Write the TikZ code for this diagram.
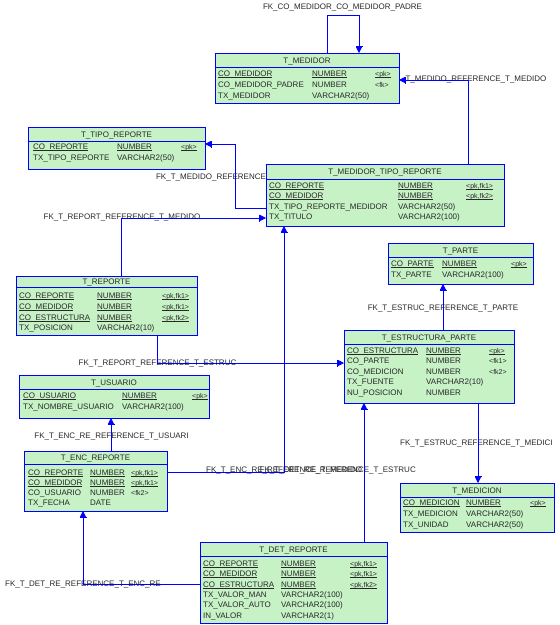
\documentclass[tikz,border=0pt]{standalone}
\usepackage{fontspec}
\setmainfont{Liberation Sans}
\usetikzlibrary{arrows.meta}
\definecolor{tfill}{RGB}{198,242,198}
\definecolor{tline}{RGB}{0,0,255}
\definecolor{ttext}{RGB}{40,40,40}
\newcommand\myul[1]{\setbox0\hbox{#1}\rlap{\rule[-1.8pt]{\wd0}{0.5pt}}\box0}
\newcommand\Tbl[7]{%
  \node[tbox, minimum width={(#4-#2)*1pt}, minimum height={(#5-#3)*1pt}] (#1) at ({(#2+#4)/2},{(#3+#5)/2}) {};
  \draw[tsep] (#2,#6) -- (#4,#6);
  \node[ttl] (#1-title) at ({(#2+#4)/2},{(#3+#6)/2+3}) {#7};}
\newcommand\NRow[6]{%
  \node[fld] (#1-#2a) at (\ColA,{#3+3}) {#4};
  \node[fld] (#1-#2b) at (\ColB,{#3+3}) {#5};
  \if\relax\detokenize{#6}\relax\else\node[mk] (#1-#2c) at (\ColC,{#3+3}) {#6};\fi}
\newcommand\URow[6]{%
  \node[fld] (#1-#2a) at (\ColA,{#3+3}) {\myul{#4}};
  \node[fld] (#1-#2b) at (\ColB,{#3+3}) {\myul{#5}};
  \node[mk] (#1-#2c) at (\ColC,{#3+3}) {\myul{#6}};}
\begin{document}
\begin{tikzpicture}[x=1pt,y=-1pt,
  tbox/.style={draw=tline,fill=tfill,line width=0.8pt,inner sep=0pt,outer sep=0pt},
  tsep/.style={draw=tline,line width=0.8pt},
  ttl/.style={anchor=base,inner sep=0pt,font=\fontsize{8}{9.6}\selectfont,text=ttext},
  fld/.style={anchor=base west,inner sep=0pt,font=\fontsize{8}{9.6}\selectfont,text=ttext},
  mk/.style={anchor=base west,inner sep=0pt,font=\fontsize{7}{8.4}\selectfont,text=ttext},
  lbl/.style={anchor=base,inner sep=0pt,font=\fontsize{8}{9.6}\selectfont,text=ttext},
  fk/.style={draw=tline,line width=0.8pt,-{Bar[width=7pt,line width=1.2pt,sep=0pt]Triangle[length=6pt,width=6pt]}},
  conn/.style={draw=tline,line width=0.8pt}]
\useasboundingbox (0,0) rectangle (560,625);

% T_MEDIDOR
\Tbl{tm}{215}{53}{399}{103}{67}{T\_MEDIDOR}
\def\ColA{218}\def\ColB{312}\def\ColC{375}
\URow{tm}{1}{73}{CO\_MEDIDOR}{NUMBER}{<pk>}
\NRow{tm}{2}{84.5}{CO\_MEDIDOR\_PADRE}{NUMBER}{<fk>}
\NRow{tm}{3}{95.5}{TX\_MEDIDOR}{VARCHAR2(50)}{}

% T_TIPO_REPORTE
\Tbl{ttr}{28}{127}{205}{169}{141}{T\_TIPO\_REPORTE}
\def\ColA{33}\def\ColB{117}\def\ColC{181}
\URow{ttr}{1}{146}{CO\_REPORTE}{NUMBER}{<pk>}
\NRow{ttr}{2}{157}{TX\_TIPO\_REPORTE}{VARCHAR2(50)}{}

% T_MEDIDOR_TIPO_REPORTE
\Tbl{tmtr}{266}{164}{504}{226}{179}{T\_MEDIDOR\_TIPO\_REPORTE}
\def\ColA{269}\def\ColB{398}\def\ColC{466}
\URow{tmtr}{1}{185}{CO\_REPORTE}{NUMBER}{<pk,fk1>}
\URow{tmtr}{2}{195}{CO\_MEDIDOR}{NUMBER}{<pk,fk2>}
\NRow{tmtr}{3}{206}{TX\_TIPO\_REPORTE\_MEDIDOR}{VARCHAR2(50)}{}
\NRow{tmtr}{4}{216}{TX\_TITULO}{VARCHAR2(100)}{}

% T_REPORTE
\Tbl{tr}{16}{276}{197}{335}{287}{T\_REPORTE}
\def\ColA{19}\def\ColB{97}\def\ColC{162}
\URow{tr}{1}{295}{CO\_REPORTE}{NUMBER}{<pk,fk1>}
\URow{tr}{2}{306}{CO\_MEDIDOR}{NUMBER}{<pk,fk1>}
\URow{tr}{3}{317}{CO\_ESTRUCTURA}{NUMBER}{<pk,fk2>}
\NRow{tr}{4}{327}{TX\_POSICION}{VARCHAR2(10)}{}

% T_PARTE
\Tbl{tp}{388}{243}{533}{284}{257}{T\_PARTE}
\def\ColA{391}\def\ColB{442}\def\ColC{511}
\URow{tp}{1}{263}{CO\_PARTE}{NUMBER}{<pk>}
\NRow{tp}{2}{274}{TX\_PARTE}{VARCHAR2(100)}{}

% T_ESTRUCTURA_PARTE
\Tbl{tep}{344}{330}{514}{403}{344}{T\_ESTRUCTURA\_PARTE}
\def\ColA{347}\def\ColB{426}\def\ColC{489}
\URow{tep}{1}{350}{CO\_ESTRUCTURA}{NUMBER}{<pk>}
\NRow{tep}{2}{360}{CO\_PARTE}{NUMBER}{<fk1>}
\NRow{tep}{3}{371}{CO\_MEDICION}{NUMBER}{<fk2>}
\NRow{tep}{4}{381}{TX\_FUENTE}{VARCHAR2(10)}{}
\NRow{tep}{5}{392}{NU\_POSICION}{NUMBER}{}

% T_USUARIO
\Tbl{tu}{19}{375}{209}{418}{389}{T\_USUARIO}
\def\ColA{23}\def\ColB{122}\def\ColC{192}
\URow{tu}{1}{395}{CO\_USUARIO}{NUMBER}{<pk>}
\NRow{tu}{2}{406}{TX\_NOMBRE\_USUARIO}{VARCHAR2(100)}{}

% T_ENC_REPORTE
\Tbl{ter}{24}{451}{167}{511}{464}{T\_ENC\_REPORTE}
\def\ColA{28}\def\ColB{90}\def\ColC{131}
\URow{ter}{1}{472}{CO\_REPORTE}{NUMBER}{<pk,fk1>}
\URow{ter}{2}{482}{CO\_MEDIDOR}{NUMBER}{<pk,fk1>}
\NRow{ter}{3}{492}{CO\_USUARIO}{NUMBER}{<fk2>}
\NRow{ter}{4}{502}{TX\_FECHA}{DATE}{}

% T_MEDICION
\Tbl{tmed}{400}{483}{554}{532}{497}{T\_MEDICION}
\def\ColA{403}\def\ColB{466}\def\ColC{530}
\URow{tmed}{1}{502}{CO\_MEDICION}{NUMBER}{<pk>}
\NRow{tmed}{2}{513}{TX\_MEDICION}{VARCHAR2(50)}{}
\NRow{tmed}{3}{524}{TX\_UNIDAD}{VARCHAR2(50)}{}

% T_DET_REPORTE
\Tbl{tdr}{200}{542}{387}{623}{556}{T\_DET\_REPORTE}
\def\ColA{203}\def\ColB{281}\def\ColC{350}
\URow{tdr}{1}{563}{CO\_REPORTE}{NUMBER}{<pk,fk1>}
\URow{tdr}{2}{573}{CO\_MEDIDOR}{NUMBER}{<pk,fk1>}
\URow{tdr}{3}{584}{CO\_ESTRUCTURA}{NUMBER}{<pk,fk2>}
\NRow{tdr}{4}{594}{TX\_VALOR\_MAN}{VARCHAR2(100)}{}
\NRow{tdr}{5}{604}{TX\_VALOR\_AUTO}{VARCHAR2(100)}{}
\NRow{tdr}{6}{615}{IN\_VALOR}{VARCHAR2(1)}{}

% labels
\node[lbl] (l1) at (342.5,9) {FK\_CO\_MEDIDOR\_CO\_MEDIDOR\_PADRE};
\node[lbl] (l2) at (476,81) {T\_MEDIDO\_REFERENCE\_T\_MEDIDO};
\node[lbl] (l3) at (211,179) {FK\_T\_MEDIDO\_REFERENCE};
\node[lbl] (l4) at (122,219) {FK\_T\_REPORT\_REFERENCE\_T\_MEDIDO};
\node[lbl] (l5) at (443,310) {FK\_T\_ESTRUC\_REFERENCE\_T\_PARTE};
\node[lbl] (l6) at (157.5,365) {FK\_T\_REPORT\_REFERENCE\_T\_ESTRUC};
\node[lbl,anchor=base west] (l7) at (400,445) {FK\_T\_ESTRUC\_REFERENCE\_T\_MEDICI};
\node[lbl] (l8) at (111.5,438) {FK\_T\_ENC\_RE\_REFERENCE\_T\_USUARI};
\node[lbl,anchor=base west] (l9) at (206,472) {FK\_T\_ENC\_RE\_REFERENCE\_T\_MEDIDO};
\node[lbl,anchor=base east] (l10) at (416,472) {FK\_T\_DET\_RE\_REFERENCE\_T\_ESTRUC};
\node[lbl] (l11) at (83,586) {FK\_T\_DET\_RE\_REFERENCE\_T\_ENC\_RE};

% connectors
\draw[fk] ([xshift=112pt]tm.north west) -- ++(0,-38) -| ([xshift=144pt]tm.north west);
\draw[fk] ([xshift=202pt]tmtr.north west) |- ([yshift=-2pt]tm.east);
\draw[fk] ([yshift=-13pt]tmtr.west) -- ++(-31,0) |- ([yshift=4pt]ttr.east);
\draw[fk] ([xshift=105pt]tr.north west) |- ([yshift=-23pt]tmtr.west);
\draw[fk] ([xshift=141pt]tr.south west) |- ([yshift=3.5pt]tep.west);
\draw[fk] ([yshift=9pt]ter.east) -| ([xshift=18pt]tmtr.south west);
\draw[fk] ([xshift=164pt]tdr.north west) -- ([xshift=20pt]tep.south west);
\draw[fk] ([yshift=-1.5pt]tdr.west) -| ([xshift=59pt]ter.south west);
\draw[fk] ([xshift=87pt]ter.north west) -- ([xshift=92pt]tu.south west);
\draw[fk] ([xshift=99pt]tep.north west) -- ([xshift=55pt]tp.south west);
\draw[fk] ([xshift=134pt]tep.south west) -- ([xshift=78pt]tmed.north west);
\end{tikzpicture}
\end{document}
